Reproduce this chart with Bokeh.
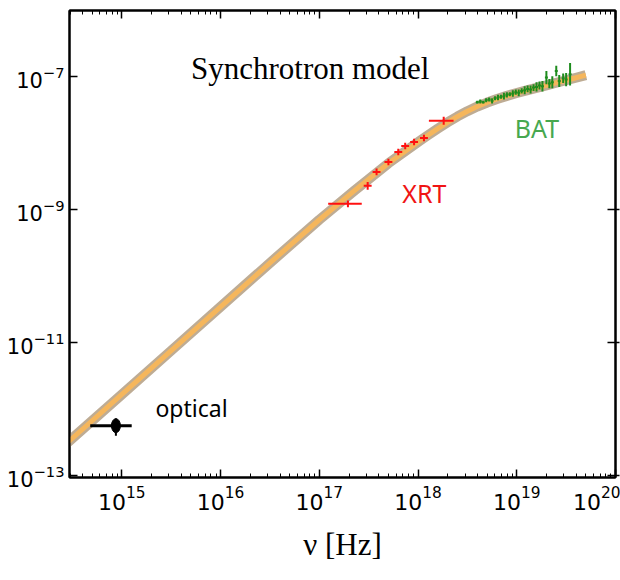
import numpy as np
from bokeh.plotting import figure
from bokeh.models import LogAxis, FixedTicker, Label, Range1d, LogTickFormatter, CustomJSTickFormatter
from bokeh.embed import file_html
from bokeh.resources import INLINE

# ---------------- data (log10 values) ----------------
model_lognu = [14.40, 15.00, 15.50, 16.00, 16.50, 17.00, 17.35, 17.70, 18.03,
               18.10, 18.20, 18.30, 18.40, 18.50, 18.60, 18.70, 18.80, 18.90,
               19.00, 19.10, 19.20, 19.30, 19.40, 19.50, 19.60, 19.70]
model_logF = [-12.57, -11.78, -11.12, -10.46, -9.80, -9.15, -8.72, -8.30, -7.95,
              -7.878, -7.778, -7.683, -7.595, -7.516, -7.446, -7.385, -7.332, -7.285,
              -7.242, -7.202, -7.164, -7.126, -7.088, -7.050, -7.012, -6.974]

xrt_lognu = [17.29, 17.49, 17.58, 17.70, 17.80, 17.87, 17.96, 18.06, 18.26]
xrt_lognu_lo = [17.09, 17.45, 17.54, 17.66, 17.76, 17.83, 17.92, 18.02, 18.11]
xrt_lognu_hi = [17.43, 17.53, 17.62, 17.74, 17.84, 17.91, 18.00, 18.10, 18.36]
xrt_logF = [-8.91, -8.64, -8.43, -8.28, -8.13, -8.04, -7.98, -7.92, -7.66]
xrt_err = [0.05, 0.06, 0.05, 0.05, 0.05, 0.05, 0.05, 0.05, 0.06]

bat_lognu = [18.60, 18.63, 18.66, 18.69, 18.72, 18.75, 18.78, 18.81, 18.84, 18.87,
             18.90, 18.93, 18.96, 18.99, 19.02, 19.05, 19.08, 19.11, 19.14, 19.17,
             19.20, 19.23, 19.26, 19.30, 19.33, 19.36, 19.40, 19.43, 19.47, 19.50, 19.54]
bat_logF = [-7.38, -7.37, -7.38, -7.35, -7.34, -7.36, -7.32, -7.31, -7.30, -7.29,
            -7.27, -7.26, -7.25, -7.23, -7.24, -7.21, -7.20, -7.18, -7.19, -7.16,
            -7.15, -7.13, -7.14, -7.01, -7.10, -7.08, -6.91, -7.06, -7.02, -7.04, -6.96]
bat_err = [0.02, 0.03, 0.02, 0.03, 0.03, 0.04, 0.03, 0.04, 0.03, 0.05,
           0.04, 0.03, 0.05, 0.04, 0.05, 0.04, 0.06, 0.05, 0.06, 0.05,
           0.07, 0.06, 0.08, 0.10, 0.07, 0.09, 0.08, 0.09, 0.07, 0.10, 0.17]
bat_halfbin = 0.015

opt_lognu = [14.94]
opt_lognu_lo = [14.68]
opt_lognu_hi = [15.10]
opt_logF = [-12.25]
opt_logF_lo = [-12.40]
opt_logF_hi = [-12.14]

x_tick_exps = [15, 16, 17, 18, 19, 20]
y_tick_exps = [-13, -11, -9, -7]

# ---------------- helpers ----------------
def p10(a):
    return [10.0 ** v for v in a]

p = figure(width=620, height=580, x_axis_type="log", y_axis_type="log",
           x_range=Range1d(10 ** 14.47, 10 ** 20.0),
           y_range=Range1d(10 ** -13.03, 10 ** -6.0),
           output_backend="svg", toolbar_location=None,
           min_border_left=69, min_border_right=5, min_border_top=10,
           min_border_bottom=103)
p.background_fill_color = "white"
p.border_fill_color = "white"
p.outline_line_color = "black"
p.outline_line_width = 2
p.xgrid.visible = False
p.ygrid.visible = False

xmajor = p10(x_tick_exps)
xminor = [m * 10.0 ** e for e in range(14, 20) for m in range(2, 10)]
ymajor = p10(y_tick_exps)

blank = CustomJSTickFormatter(code="return ' ';")

def style_x(ax, labels=True):
    ax.ticker = FixedTicker(ticks=xmajor, minor_ticks=xminor)
    ax.major_tick_in = 8
    ax.major_tick_out = 0
    ax.minor_tick_in = 4
    ax.minor_tick_out = 0
    ax.axis_line_width = 2
    ax.major_tick_line_width = 1.5
    ax.minor_tick_line_width = 1
    ax.axis_line_color = "black"
    ax.major_tick_line_color = "black"
    ax.minor_tick_line_color = "black"
    if labels:
        ax.formatter = LogTickFormatter()
        ax.major_label_text_font = "DejaVu Sans"
        ax.major_label_text_font_size = "22px"
        ax.major_label_text_color = "black"
        ax.major_label_standoff = 8
    else:
        ax.formatter = blank
        ax.major_label_text_font_size = "2px"
        ax.major_label_text_alpha = 0
        ax.major_label_standoff = 0

def style_y(ax, labels=True, tick_out=0):
    ax.ticker = FixedTicker(ticks=ymajor, minor_ticks=[])
    ax.major_tick_in = 8
    ax.major_tick_out = tick_out
    ax.minor_tick_in = 0
    ax.minor_tick_out = 0
    ax.axis_line_width = 2
    ax.major_tick_line_width = 1.5
    ax.axis_line_color = "black"
    ax.major_tick_line_color = "black"
    if labels:
        ax.formatter = LogTickFormatter()
        ax.major_label_text_font = "DejaVu Sans"
        ax.major_label_text_font_size = "21px"
        ax.major_label_text_color = "black"
        ax.major_label_standoff = 5
    else:
        ax.formatter = blank
        ax.major_label_text_font_size = "2px"
        ax.major_label_text_alpha = 0
        ax.major_label_standoff = 0

style_x(p.xaxis[0])
style_y(p.yaxis[0])
p.xaxis[0].axis_label = "ν [Hz]"
p.xaxis[0].axis_label_text_font = "Liberation Serif"
p.xaxis[0].axis_label_text_font_style = "normal"
p.xaxis[0].axis_label_text_font_size = "31px"
p.xaxis[0].axis_label_text_color = "black"
p.xaxis[0].axis_label_standoff = 14

top_ax = LogAxis()
style_x(top_ax, labels=False)
p.add_layout(top_ax, "above")
right_ax = LogAxis()
style_y(right_ax, labels=False, tick_out=4)
p.add_layout(right_ax, "right")

# ---------------- model band ----------------
mx = p10(model_lognu)
my = p10(model_logF)
p.line(mx, my, line_width=10, line_color="#a89070", line_alpha=0.75, line_join="round")
p.line(mx, my, line_width=5, line_color="#f5b65c", line_join="round")

# ---------------- XRT ----------------
xrt_c = "#ff1010"
p.segment(p10(xrt_lognu_lo), p10(xrt_logF), p10(xrt_lognu_hi), p10(xrt_logF),
          line_color=xrt_c, line_width=2)
p.segment(p10(xrt_lognu), p10([f - e for f, e in zip(xrt_logF, xrt_err)]),
          p10(xrt_lognu), p10([f + e for f, e in zip(xrt_logF, xrt_err)]),
          line_color=xrt_c, line_width=2)

# ---------------- BAT ----------------
bat_c = "#1e8c1e"
p.segment(p10([n - bat_halfbin for n in bat_lognu]), p10(bat_logF),
          p10([n + bat_halfbin for n in bat_lognu]), p10(bat_logF),
          line_color=bat_c, line_width=2)
p.segment(p10(bat_lognu), p10([f - e for f, e in zip(bat_logF, bat_err)]),
          p10(bat_lognu), p10([f + e for f, e in zip(bat_logF, bat_err)]),
          line_color=bat_c, line_width=2)

# ---------------- optical ----------------
p.segment(p10(opt_lognu_lo), p10(opt_logF), p10(opt_lognu_hi), p10(opt_logF),
          line_color="black", line_width=3)
p.segment(p10(opt_lognu), p10(opt_logF_lo), p10(opt_lognu), p10(opt_logF_hi),
          line_color="black", line_width=2)
p.ellipse(p10(opt_lognu), p10(opt_logF), width=9, height=14,
          width_units="screen", height_units="screen",
          fill_color="black", line_color="black")

# ---------------- labels ----------------
p.add_layout(Label(x=10 ** 15.70, y=10 ** -6.88, text="Synchrotron model",
                   text_font="Liberation Serif", text_font_size="31px",
                   text_color="black", text_baseline="alphabetic"))
p.add_layout(Label(x=10 ** 17.84, y=10 ** -8.75, text="XRT",
                   text_font="Noto Sans", text_font_size="25px",
                   text_color="#f01414", text_baseline="alphabetic"))
p.add_layout(Label(x=10 ** 18.98, y=10 ** -7.765, text="BAT",
                   text_font="Noto Sans", text_font_size="25px",
                   text_color="#47a84f", text_baseline="alphabetic"))
p.add_layout(Label(x=10 ** 15.34, y=10 ** -11.98, text="optical",
                   text_font="Noto Sans", text_font_size="23px",
                   text_color="black", text_baseline="alphabetic"))

open("out.html", "w").write(file_html(p, INLINE))
